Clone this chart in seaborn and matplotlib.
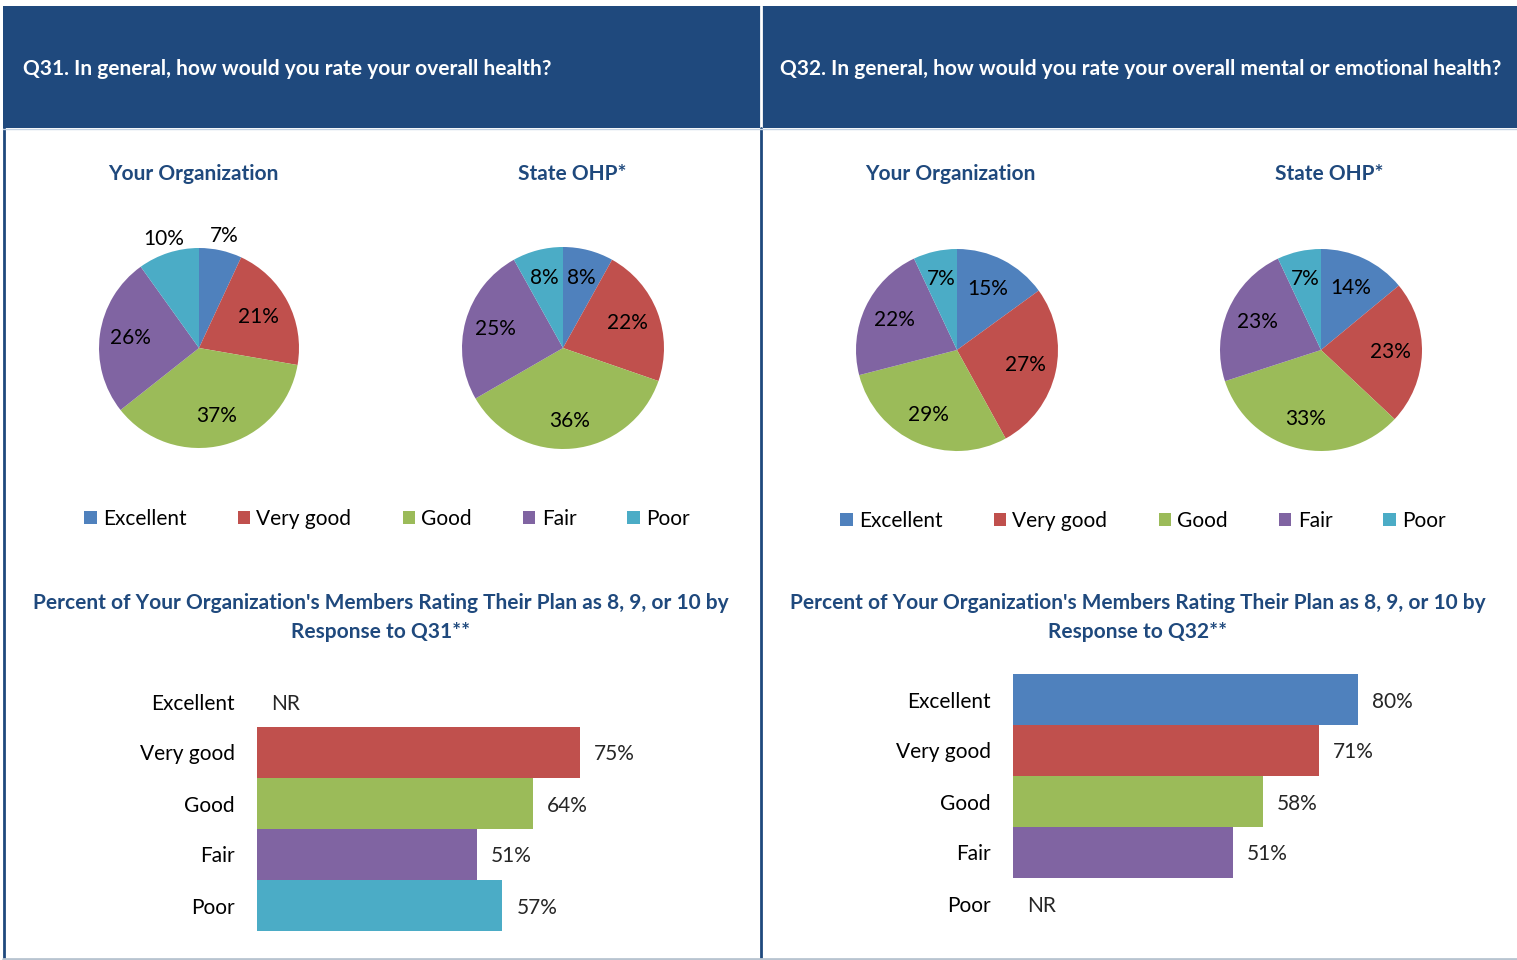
import numpy as np
import pandas as pd
import matplotlib
matplotlib.use("Agg")
import matplotlib.pyplot as plt
import seaborn as sns
from matplotlib.patches import Rectangle, Patch

# ---------------- data ----------------
categories = ["Excellent", "Very good", "Good", "Fair", "Poor"]
q31_org = [7, 21, 37, 26, 10]
q31_state = [8, 22, 36, 25, 8]
q32_org = [15, 27, 29, 22, 7]
q32_state = [14, 23, 33, 23, 7]
q31_bars = [np.nan, 75, 64, 51, 57]
q32_bars = [80, 71, 58, 51, np.nan]
header_titles = ["Q31. In general, how would you rate your overall health?",
                 "Q32. In general, how would you rate your overall mental or emotional health?"]
pie_titles = ["Your Organization", "State OHP*"]
bar_title_line1 = "Percent of Your Organization's Members Rating Their Plan as 8, 9, or 10 by"
bar_title_line2 = ["Response to Q31**", "Response to Q32**"]

colors = ["#4F81BD", "#C0504D", "#9BBB59", "#8064A2", "#4BACC6"]
navy = "#1F497D"

sns.set_theme(style="white")
plt.rcParams["font.family"] = ["Lato", "DejaVu Sans"]

W, H = 1517, 960
fig = plt.figure(figsize=(W / 100, H / 100), dpi=100)

FS = 15


def px_axes(x0, y0, x1, y1, **kw):
    return fig.add_axes([x0 / W, 1 - y1 / H, (x1 - x0) / W, (y1 - y0) / H], **kw)


# background / frame
bg = px_axes(0, 0, W, H, zorder=-5)
bg.set_xlim(0, W)
bg.set_ylim(H, 0)
bg.axis("off")
bg.add_patch(Rectangle((3, 6), W - 3, 122, color=navy, lw=0))
bg.plot([761, 761], [6, 128], color="white", lw=2)
bg.plot([761, 761], [128, 960], color=navy, lw=2)
bg.plot([4, 4], [128, 960], color=navy, lw=2)
bg.plot([3, W], [128.5, 128.5], color="#C5D3E3", lw=1)
bg.plot([3, W], [959, 959], color="#B8C4D0", lw=2)

bg.text(23, 69, header_titles[0], color="white", fontweight="bold", fontsize=FS, va="center", ha="left")
bg.text(780, 69, header_titles[1], color="white", fontweight="bold", fontsize=FS, va="center", ha="left")

# pie titles
for tx, t in zip([193, 572, 950, 1329], pie_titles * 2):
    bg.text(tx, 174, t, color=navy, fontweight="bold", fontsize=FS, ha="center", va="center")


def draw_pie(cx, cy, r, vals, dists):
    ax = px_axes(cx - r, cy - r, cx + r, cy + r)
    wedges, _ = ax.pie(vals, colors=colors, startangle=90, counterclock=False, radius=1,
                       wedgeprops=dict(linewidth=0))
    ax.set_xlim(-1, 1)
    ax.set_ylim(-1, 1)
    for w, v, d in zip(wedges, vals, dists):
        ang = np.deg2rad((w.theta1 + w.theta2) / 2)
        ax.text(d * np.cos(ang), d * np.sin(ang), f"{v}%", ha="center", va="center",
                fontsize=FS, color="black")


draw_pie(199, 348, 100, q31_org, [1.15, 0.67, 0.70, 0.69, 1.15])
draw_pie(563, 348, 101, q31_state, [0.72, 0.68, 0.73, 0.69, 0.72])
draw_pie(957, 350, 101, q32_org, [0.68, 0.69, 0.70, 0.69, 0.72])
draw_pie(1321, 350, 101, q32_state, [0.68, 0.69, 0.70, 0.69, 0.72])

# legends
handles = [Patch(facecolor=c, edgecolor="none") for c in colors]
for lx, ly in [(387, 519), (1143, 521)]:
    fig.legend(handles, categories, loc="center", bbox_to_anchor=(lx / W, 1 - ly / H),
               ncol=5, frameon=False, fontsize=FS, handlelength=0.6, handleheight=0.6,
               handletextpad=0.3, columnspacing=2.45, labelcolor="black",
               borderpad=0, borderaxespad=0)

# bar titles
for tx, t2 in zip([381, 1138], bar_title_line2):
    bg.text(tx, 603, bar_title_line1, color=navy, fontweight="bold", fontsize=FS, ha="center", va="center")
    bg.text(tx, 632, t2, color=navy, fontweight="bold", fontsize=FS, ha="center", va="center")

PX_PER_PCT = 4.307
ROW = 51


def draw_bars(x0, ytop, vals):
    ax = px_axes(x0, ytop, x0 + 100 * PX_PER_PCT, ytop + 5 * ROW)
    df = pd.DataFrame({"cat": categories, "val": vals})
    sns.barplot(data=df, x="val", y="cat", hue="cat", palette=colors, order=categories,
                hue_order=categories, width=1.0, legend=False, ax=ax, orient="h",
                linewidth=0, errorbar=None, saturation=1)
    ax.set_xlim(0, 100)
    ax.set_ylim(4.5, -0.5)
    ax.set_xlabel("")
    ax.set_ylabel("")
    ax.set_xticks([])
    for s in ax.spines.values():
        s.set_visible(False)
    ax.tick_params(axis="y", length=0, pad=16, labelsize=FS, labelcolor="black")
    ax.patch.set_alpha(0)
    for i, v in enumerate(vals):
        if np.isnan(v):
            ax.annotate("NR", xy=(0, i), xytext=(14, -2), textcoords="offset pixels",
                        va="center", ha="left", fontsize=FS)
        else:
            ax.annotate(f"{v:.0f}%", xy=(v, i), xytext=(14, -2), textcoords="offset pixels",
                        va="center", ha="left", fontsize=FS)


draw_bars(257, 676, q31_bars)
draw_bars(1013, 674, q32_bars)

fig.savefig("out.png", dpi=100)
